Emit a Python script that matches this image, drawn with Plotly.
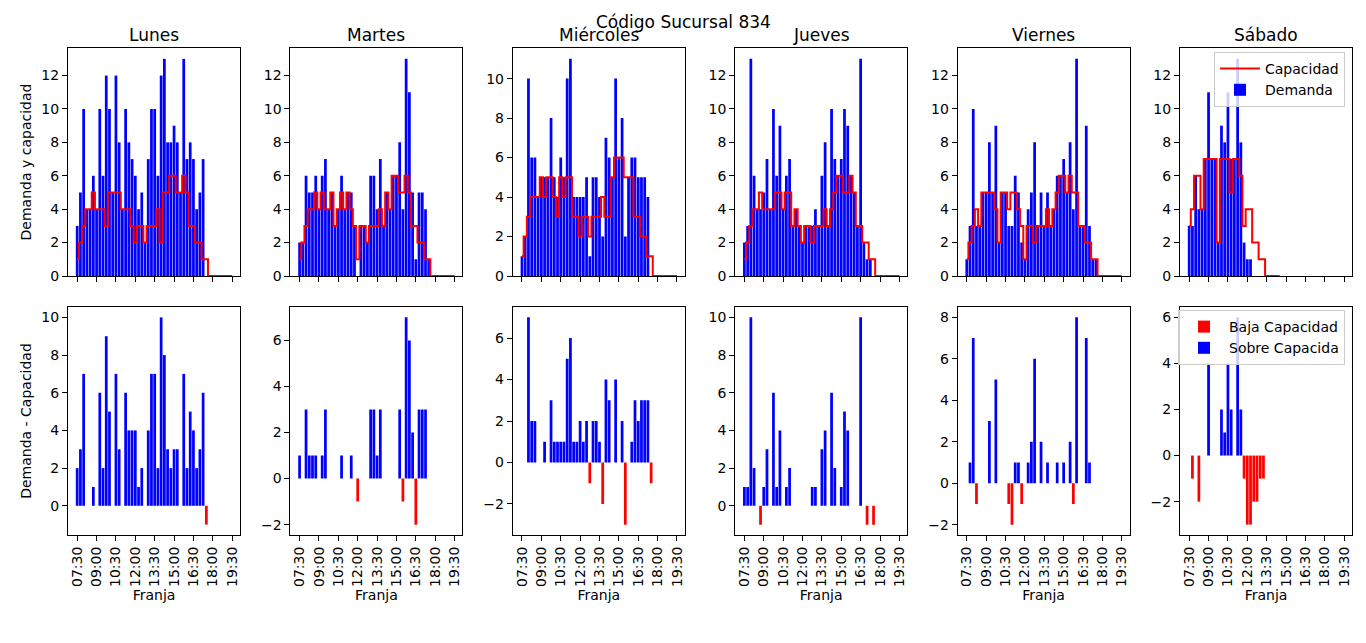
"""Demanda vs capacidad por franja horaria, sucursal 834"""
import plotly.graph_objects as go

# la pagina tiene 8 px de margen: la figura se dibuja algo mas chica y corrida
OFF = 8
W, H = 1366 - 2 * OFF, 643 - 3 * OFF

# franjas de 15 minutos
FRANJAS = ["07:30", "07:45", "08:00", "08:15", "08:30", "08:45", "09:00", "09:15",
           "09:30", "09:45", "10:00", "10:15", "10:30", "10:45", "11:00", "11:15",
           "11:30", "11:45", "12:00", "12:15", "12:30", "12:45", "13:00", "13:15",
           "13:30", "13:45", "14:00", "14:15", "14:30", "14:45", "15:00", "15:15",
           "15:30", "15:45", "16:00", "16:15", "16:30", "16:45", "17:00", "17:15",
           "17:30", "17:45", "18:00", "18:15", "18:30", "18:45", "19:00", "19:15",
           "19:30"]
TICK_LABELS = ["07:30", "09:00", "10:30", "12:00", "13:30", "15:00", "16:30", "18:00", "19:30"]
DIAS = ["Lunes", "Martes", "Miércoles", "Jueves", "Viernes", "Sábado"]

DEM_LUNES = [3, 5, 10, 4, 4, 6, 4, 10, 6, 12, 10, 5, 12, 8, 4, 10, 8, 7, 6, 4, 5, 2, 7, 10, 10,
             6, 12, 13, 8, 8, 9, 8, 5, 13, 7, 8, 7, 4, 5, 7, 0, 0, 0, 0, 0, 0, 0, 0, 0]
CAP_LUNES = [1, 2, 3, 4, 4, 5, 4, 4, 4, 3, 5, 5, 5, 5, 4, 4, 4, 3, 2, 3, 3, 2, 3, 3, 3,
             4, 2, 5, 5, 6, 6, 5, 5, 6, 5, 3, 3, 2, 2, 1, 1, 0, 0, 0, 0, 0, 0, 0, 0]

DEM_MARTES = [2, 2, 6, 5, 5, 6, 4, 6, 7, 4, 5, 3, 4, 6, 4, 5, 5, 3, 0, 3, 3, 2, 6, 6, 4,
              7, 3, 5, 4, 6, 6, 8, 4, 13, 11, 5, 1, 5, 5, 4, 1, 0, 0, 0, 0, 0, 0, 0, 0]
CAP_MARTES = [1, 2, 3, 4, 4, 5, 4, 5, 4, 4, 5, 3, 4, 5, 4, 5, 4, 3, 1, 3, 3, 2, 3, 3, 3,
              4, 3, 5, 4, 6, 6, 5, 5, 6, 5, 3, 3, 2, 2, 1, 1, 0, 0, 0, 0, 0, 0, 0, 0]

DEM_MIERCOLES = [1, 2, 10, 6, 6, 4, 5, 5, 5, 8, 5, 4, 6, 5, 10, 11, 4, 4, 4, 4, 5, 1, 5, 5, 4,
                 2, 7, 6, 5, 10, 6, 8, 2, 5, 6, 6, 5, 5, 5, 4, 0, 0, 0, 0, 0, 0, 0, 0, 0]
CAP_MIERCOLES = [1, 2, 3, 4, 4, 4, 5, 4, 5, 5, 4, 3, 5, 4, 5, 5, 3, 3, 2, 3, 3, 2, 3, 3, 3,
                 4, 3, 3, 5, 6, 6, 6, 5, 5, 5, 3, 3, 2, 2, 1, 1, 0, 0, 0, 0, 0, 0, 0, 0]

DEM_JUEVES = [2, 3, 13, 6, 4, 4, 5, 7, 4, 10, 6, 9, 4, 6, 7, 3, 4, 3, 2, 3, 3, 3, 4, 3, 6,
              8, 3, 10, 7, 6, 7, 10, 9, 6, 5, 3, 13, 2, 1, 1, 0, 0, 0, 0, 0, 0, 0, 0, 0]
CAP_JUEVES = [1, 2, 3, 4, 4, 5, 4, 4, 4, 4, 5, 5, 4, 5, 5, 3, 4, 3, 2, 3, 3, 2, 3, 3, 3,
              4, 3, 4, 5, 6, 6, 5, 5, 6, 5, 3, 3, 2, 2, 1, 1, 0, 0, 0, 0, 0, 0, 0, 0]

DEM_VIERNES = [1, 3, 10, 3, 3, 5, 5, 8, 5, 9, 2, 5, 5, 3, 3, 6, 5, 2, 1, 4, 5, 8, 3, 5, 3,
               5, 3, 4, 6, 6, 7, 5, 8, 4, 13, 3, 3, 9, 3, 1, 1, 0, 0, 0, 0, 0, 0, 0, 0]
CAP_VIERNES = [1, 2, 3, 4, 3, 5, 5, 5, 5, 4, 2, 5, 5, 4, 5, 5, 4, 3, 1, 3, 3, 2, 3, 3, 3,
               4, 3, 4, 5, 6, 6, 5, 6, 5, 5, 3, 3, 2, 2, 1, 1, 0, 0, 0, 0, 0, 0, 0, 0]

DEM_SABADO = [3, 3, 6, 4, 4, 7, 11, 7, 7, 2, 9, 8, 11, 7, 7, 13, 8, 2, 1, 1, 0, 0, 0, 0, 0,
              0, 0, 0, 0]
CAP_SABADO = [3, 4, 6, 6, 4, 7, 7, 7, 7, 2, 7, 7, 7, 5, 7, 7, 6, 3, 4, 4, 2, 2, 1, 1, 0,
              0, 0, 0, 0]

DEMANDA = [DEM_LUNES, DEM_MARTES, DEM_MIERCOLES, DEM_JUEVES, DEM_VIERNES, DEM_SABADO]
CAPACIDAD = [CAP_LUNES, CAP_MARTES, CAP_MIERCOLES, CAP_JUEVES, CAP_VIERNES, CAP_SABADO]

FONT = "DejaVu Sans"
BAR_W = 0.85

# cajas de los ejes en pixeles de la ventana (izq, ancho) y (arriba, abajo)
LEFTS = [68, 290.4, 512.8, 735.2, 957.6, 1180]
PANEL_W = 172
ROWS = [(48, 276), (307, 535)]


def px_x(a, b):
    return [(a - OFF) / W, (b - OFF) / W]


def px_y(top, bottom):
    return [1 - (bottom - OFF) / H, 1 - (top - OFF) / H]


def margen(lo, hi, m=0.05):
    span = hi - lo
    return [lo - m * span, hi + m * span]


tick_pos = [FRANJAS.index(t) for t in TICK_LABELS]
x_range = margen(-BAR_W / 2, len(FRANJAS) - 1)

fig = go.Figure()
layout = {}
annotations = []

for c, dia in enumerate(DIAS):
    dem = DEMANDA[c]
    cap = CAPACIDAD[c]
    pos = list(range(len(dem)))
    dif = [d - k for d, k in zip(dem, cap)]
    last = c == len(DIAS) - 1

    for r in range(2):
        k = r * 6 + c + 1
        xa = "x" if k == 1 else "x%d" % k
        ya = "y" if k == 1 else "y%d" % k
        bottom_row = r == 1

        if r == 0:
            fig.add_trace(go.Bar(x=pos, y=dem, width=BAR_W, marker_color="blue",
                                 marker_line_width=0, name="Demanda", legend="legend",
                                 legendrank=2, showlegend=last, xaxis=xa, yaxis=ya))
            fig.add_trace(go.Scatter(x=pos, y=cap, mode="lines", name="Capacidad",
                                     line=dict(color="red", width=2, shape="hvh"),
                                     legend="legend", legendrank=1, showlegend=last,
                                     xaxis=xa, yaxis=ya))
            y_range = [0, max(max(dem), max(cap)) * 1.05]
            y_title = "Demanda y capacidad" if c == 0 else ""
        else:
            neg = [d if d < 0 else None for d in dif]
            posi = [d if d > 0 else None for d in dif]
            fig.add_trace(go.Bar(x=pos, y=neg, width=BAR_W, marker_color="red",
                                 marker_line_width=0, name="Baja Capacidad", legend="legend2",
                                 legendrank=1, showlegend=last, xaxis=xa, yaxis=ya))
            fig.add_trace(go.Bar(x=pos, y=posi, width=BAR_W, marker_color="blue",
                                 marker_line_width=0, name="Sobre Capacida", legend="legend2",
                                 legendrank=2, showlegend=last, xaxis=xa, yaxis=ya))
            y_range = margen(min(dif), max(dif))
            y_title = "Demanda - Capacidad" if c == 0 else ""

        comunes = dict(showline=True, linecolor="black", linewidth=1, mirror=True,
                       showgrid=False, zeroline=False, ticks="outside", ticklen=5,
                       tickwidth=1, tickcolor="black", automargin=False,
                       tickfont=dict(family=FONT, size=14, color="black"))
        layout["xaxis" if k == 1 else "xaxis%d" % k] = dict(
            domain=px_x(LEFTS[c], LEFTS[c] + PANEL_W), anchor=ya, range=x_range,
            tickmode="array", tickvals=tick_pos, ticktext=TICK_LABELS,
            showticklabels=bottom_row, tickangle=-90,
            title=dict(text="Franja" if bottom_row else "", standoff=4,
                       font=dict(family=FONT, size=14, color="black")),
            **comunes)
        layout["yaxis" if k == 1 else "yaxis%d" % k] = dict(
            domain=px_y(*ROWS[r]), anchor=xa, range=y_range, dtick=2,
            title=dict(text=y_title, standoff=6,
                       font=dict(family=FONT, size=14, color="black")),
            **comunes)

    annotations.append(dict(text=dia, x=(LEFTS[c] + PANEL_W / 2 - OFF) / W,
                            y=1 - (35.5 - OFF) / H,
                            xref="paper", yref="paper", showarrow=False,
                            xanchor="center", yanchor="middle",
                            font=dict(family=FONT, size=17, color="black")))

annotations.append(dict(text="Código Sucursal 834", x=(683 - OFF) / W, y=1 - (22 - OFF) / H,
                        xref="paper", yref="paper", showarrow=False,
                        xanchor="center", yanchor="middle",
                        font=dict(family=FONT, size=17, color="black")))

leyenda = dict(xanchor="right", yanchor="top", bgcolor="rgba(255,255,255,0.8)",
               bordercolor="#cccccc", borderwidth=1, itemwidth=40,
               font=dict(family=FONT, size=14, color="black"), traceorder="normal")

fig.update_layout(
    width=W, height=H,
    margin=dict(l=0, r=0, t=0, b=0),
    paper_bgcolor="white", plot_bgcolor="white",
    font=dict(family=FONT, size=14, color="black"),
    barmode="overlay",
    annotations=annotations,
    legend=dict(x=(1345 - OFF) / W, y=1 - (52 - OFF) / H, **leyenda),
    legend2=dict(x=(1345 - OFF) / W, y=1 - (310 - OFF) / H, **leyenda),
    **layout,
)

fig.write_html("out.html")
